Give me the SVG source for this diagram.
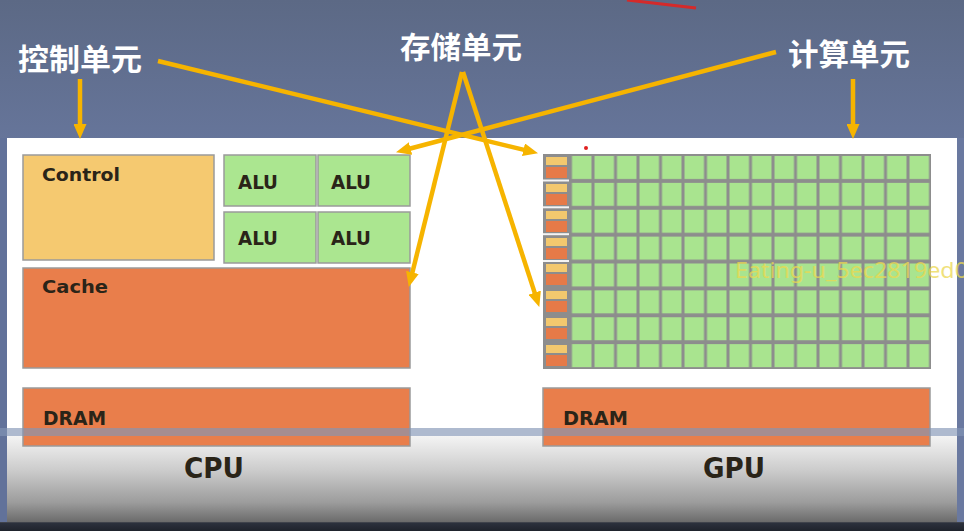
<svg xmlns="http://www.w3.org/2000/svg" width="964" height="531" viewBox="0 0 964 531">
<defs>
<linearGradient id="bgTop" x1="0" y1="0" x2="0" y2="1">
<stop offset="0" stop-color="#5c6985"/>
<stop offset="1" stop-color="#66759a"/>
</linearGradient>
<linearGradient id="bgBottom" x1="0" y1="0" x2="0" y2="1">
<stop offset="0" stop-color="#f4f4f4"/>
<stop offset="0.35" stop-color="#cdcdcd"/>
<stop offset="0.7" stop-color="#9c9c9c"/>
<stop offset="0.9" stop-color="#6c6c6c"/>
<stop offset="0.915" stop-color="#2c313d"/>
<stop offset="1" stop-color="#1f232c"/>
</linearGradient>
<pattern id="cells" x="570.5" y="154" width="22.5" height="26.875" patternUnits="userSpaceOnUse">
<rect x="1.5" y="2" width="19.5" height="23" fill="#a9e48f"/>
</pattern>
<marker id="ah" markerUnits="userSpaceOnUse" markerWidth="15" markerHeight="13" refX="5" refY="6.5" orient="auto">
<path d="M0,0 L15,6.5 L0,13 z" fill="#f6b400"/>
</marker>
<style>
.lbl{font-family:"Noto Sans CJK SC","Noto Sans",sans-serif;font-weight:700;font-size:30px;fill:#ffffff}
.blk{font-family:"DejaVu Sans Condensed","DejaVu Sans","Liberation Sans",sans-serif;font-weight:700;fill:#2a2418}
.box{stroke:#9a9a9a;stroke-width:1.5}
.ctl{fill:#f5c970}
.alu{fill:#abe690}
.mem{fill:#e97e4b}
.arr{stroke:#f6b400;stroke-width:4.5;fill:none;marker-end:url(#ah)}
.cy{fill:#f3c86e}
.co{fill:#e67a48}
</style>
</defs>
<!-- background -->
<rect x="0" y="0" width="964" height="140" fill="url(#bgTop)"/>
<path d="M627,0 Q662,4 696,8" stroke="#d42a2a" stroke-width="3" fill="none"/>
<rect x="0" y="436" width="964" height="95" fill="url(#bgBottom)"/>
<rect x="7" y="138" width="950" height="298" fill="#ffffff"/>
<rect x="0" y="138" width="7" height="384" fill="#62729a"/>
<rect x="957" y="138" width="7" height="384" fill="#6a79a0"/>

<g id="cpu">
<g id="control"><rect class="box ctl" x="23" y="155" width="191" height="105"/><text class="blk" x="42" y="181" font-size="18" textLength="78" lengthAdjust="spacingAndGlyphs">Control</text></g>
<g id="alu1"><rect class="box alu" x="224" y="155" width="92" height="51"/><text class="blk" x="238" y="189" font-size="20" textLength="40" lengthAdjust="spacingAndGlyphs">ALU</text></g>
<g id="alu2"><rect class="box alu" x="318" y="155" width="92" height="51"/><text class="blk" x="331" y="189" font-size="20" textLength="40" lengthAdjust="spacingAndGlyphs">ALU</text></g>
<g id="alu3"><rect class="box alu" x="224" y="212" width="92" height="51"/><text class="blk" x="238" y="245" font-size="20" textLength="40" lengthAdjust="spacingAndGlyphs">ALU</text></g>
<g id="alu4"><rect class="box alu" x="318" y="212" width="92" height="51"/><text class="blk" x="331" y="245" font-size="20" textLength="40" lengthAdjust="spacingAndGlyphs">ALU</text></g>
<g id="cache"><rect class="box mem" x="23" y="268" width="387" height="100"/><text class="blk" x="42" y="293" font-size="18" textLength="66" lengthAdjust="spacingAndGlyphs">Cache</text></g>
<g id="cpu-dram"><rect class="box mem" x="23" y="388" width="387" height="58"/><text class="blk" x="43" y="425" font-size="19" textLength="63" lengthAdjust="spacingAndGlyphs">DRAM</text></g>
</g>

<g id="gpu">
<g id="gpu-grid">
<rect x="543" y="154" width="388" height="215" fill="#8d8d8d"/>
<rect x="570.5" y="154" width="360" height="215" fill="url(#cells)"/>
<g id="gpu-ctl">
<rect class="cy" x="546" y="157" width="21" height="8"/><rect class="co" x="546" y="167" width="21" height="11"/>
<rect class="cy" x="546" y="184" width="21" height="8"/><rect class="co" x="546" y="194" width="21" height="11"/>
<rect class="cy" x="546" y="211" width="21" height="8"/><rect class="co" x="546" y="221" width="21" height="11"/>
<rect class="cy" x="546" y="238" width="21" height="8"/><rect class="co" x="546" y="248" width="21" height="11"/>
<rect class="cy" x="546" y="264" width="21" height="8"/><rect class="co" x="546" y="274" width="21" height="11"/>
<rect class="cy" x="546" y="291" width="21" height="8"/><rect class="co" x="546" y="301" width="21" height="11"/>
<rect class="cy" x="546" y="318" width="21" height="8"/><rect class="co" x="546" y="328" width="21" height="11"/>
<rect class="cy" x="546" y="345" width="21" height="8"/><rect class="co" x="546" y="355" width="21" height="11"/>
<rect x="543" y="179.5" width="26" height="2" fill="#f4f4f4"/>
<rect x="543" y="206.3" width="26" height="2" fill="#f4f4f4"/>
<rect x="543" y="233.2" width="26" height="2" fill="#f4f4f4"/>
<rect x="543" y="260" width="26" height="2" fill="#f4f4f4"/>
</g>
</g>
<g id="gpu-dram"><rect class="box mem" x="543" y="388" width="387" height="58"/><text class="blk" x="563" y="425" font-size="19" textLength="65" lengthAdjust="spacingAndGlyphs">DRAM</text></g>
</g>

<!-- overlay band -->
<rect x="0" y="428" width="964" height="8" fill="#8395b5" opacity="0.65"/>

<g id="titles">
<text class="blk" x="184" y="478" font-size="28" font-weight="400" fill="#1c1c28" textLength="60" lengthAdjust="spacingAndGlyphs">CPU</text>
<text class="blk" x="703" y="478" font-size="28" font-weight="400" fill="#1c1c28" textLength="62" lengthAdjust="spacingAndGlyphs">GPU</text>
</g>

<g id="labels">
<text class="lbl" x="18" y="70" textLength="124" lengthAdjust="spacingAndGlyphs">控制单元</text>
<text class="lbl" x="400" y="58" textLength="122" lengthAdjust="spacingAndGlyphs">存储单元</text>
<text class="lbl" x="788" y="65" textLength="122" lengthAdjust="spacingAndGlyphs">计算单元</text>
</g>

<g id="connectors">
<line class="arr" x1="80" y1="79" x2="80" y2="129"/>
<line class="arr" x1="853" y1="79" x2="853" y2="129"/>
<line class="arr" x1="158" y1="61" x2="528.3" y2="150.9"/>
<line class="arr" x1="776" y1="52" x2="405.7" y2="149.7"/>
<line class="arr" x1="462" y1="72" x2="411.2" y2="277.3"/>
<line class="arr" x1="463" y1="72" x2="536.2" y2="297.4"/>
</g>

<circle cx="586" cy="148" r="2" fill="#e02020"/>
<text x="735" y="278" font-family="Noto Sans, sans-serif" font-size="21" fill="#ecd850" opacity="0.75" textLength="233" lengthAdjust="spacingAndGlyphs">Eating-u_5ec2819ed0</text>
</svg>
